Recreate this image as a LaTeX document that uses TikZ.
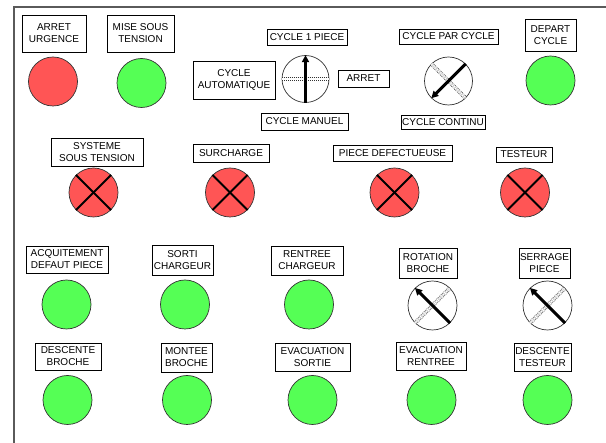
\documentclass[tikz,border=0pt]{standalone}
\usepackage{fontspec}
\setmainfont{Liberation Sans}
\usetikzlibrary{arrows.meta}
\definecolor{lampred}{RGB}{255,85,85}
\definecolor{lampgreen}{RGB}{85,255,85}
\definecolor{framegray}{RGB}{90,90,90}
\begin{document}
\begin{tikzpicture}[x=1pt,y=-1pt,
  lbl/.style={draw=black, line width=0.8pt, fill=white, align=center,
    font=\fontsize{10}{12}\selectfont, inner sep=0pt},
  lamp/.style={circle, draw=black!80, line width=0.7pt, minimum size=49pt, inner sep=0pt},
  redlamp/.style={lamp, fill=lampred},
  greenlamp/.style={lamp, fill=lampgreen},
  selector/.style={circle, draw=black!80, line width=0.7pt, fill=white, minimum size=48pt, inner sep=0pt},
  crossline/.style={line width=2pt, black},
  selarrow/.style={line width=3pt, black, -{Triangle[length=7pt,width=7pt]}},
  seldots/.style={double, double distance=2.6pt, line width=0.5pt, dash pattern=on 1pt off 1pt, black!80}
]
\useasboundingbox (0,0) rectangle (606,443);
\coordinate (fb) at (14,443);
\coordinate (fc) at (14,7);
\coordinate (fr) at (606,7);
\draw[framegray, line width=1.4pt] (fb) -- (fc) -- (fr);

% row 1
\node[lbl, minimum width=64pt, minimum height=37pt] (l1) at (54,33.5) {ARRET\\URGENCE};
\node[lbl, minimum width=67pt, minimum height=37pt] (l2) at (140.5,33.5) {MISE SOUS\\TENSION};
\node[lbl, minimum width=80pt, minimum height=16pt] (l3) at (307,37) {CYCLE 1 PIECE};
\node[lbl, minimum width=82pt, minimum height=38pt] (l4) at (234,80) {CYCLE\\AUTOMATIQUE};
\node[lbl, minimum width=51pt, minimum height=17pt] (l5) at (363.5,78.5) {ARRET};
\node[lbl, minimum width=87pt, minimum height=17pt] (l6) at (304.5,121.5) {CYCLE MANUEL};
\node[lbl, minimum width=99pt, minimum height=15pt] (l7) at (448.5,36.5) {CYCLE PAR CYCLE};
\node[lbl, minimum width=84pt, minimum height=14pt] (l8) at (443,122) {CYCLE CONTINU};
\node[lbl, minimum width=51pt, minimum height=32pt] (l9) at (550.5,35) {DEPART\\CYCLE};

\node[redlamp] (c1) at (53,81.5) {};
\node[greenlamp] (c2) at (141.5,83) {};
\node[selector, minimum size=47pt] (s1) at (305.5,79) {};
\draw[seldots] (s1.180) -- (s1.0);
\draw[selarrow] (s1.-90) -- (s1.90);
\node[selector] (s2) at (448.5,81) {};
\draw[seldots] (s2.135) -- (s2.-45);
\draw[selarrow] (s2.45) -- (s2.225);
\node[greenlamp] (c3) at (550.5,80.5) {};

% row 2
\node[lbl, minimum width=92pt, minimum height=28pt] (l10) at (97,152) {SYSTEME\\SOUS TENSION};
\node[lbl, minimum width=76pt, minimum height=18pt] (l11) at (231,153) {SURCHARGE};
\node[lbl, minimum width=119pt, minimum height=16pt] (l12) at (392.5,153) {PIECE DEFECTUEUSE};
\node[lbl, minimum width=56pt, minimum height=15pt] (l13) at (524,154.5) {TESTEUR};

\foreach \n/\x in {x1/93.5, x2/230, x3/394.5, x4/525}{
  \node[redlamp] (\n) at (\x,192.5) {};
  \draw[crossline] (\n.45) -- (\n.225);
  \draw[crossline] (\n.135) -- (\n.-45);
}

% row 3
\node[lbl, minimum width=82pt, minimum height=27pt] (l14) at (67,259.5) {ACQUITEMENT\\DEFAUT PIECE};
\node[lbl, minimum width=61pt, minimum height=30pt] (l15) at (182.5,260) {SORTI\\CHARGEUR};
\node[lbl, minimum width=72pt, minimum height=29pt] (l16) at (307,260.5) {RENTREE\\CHARGEUR};
\node[lbl, minimum width=58pt, minimum height=30pt] (l17) at (428,263) {ROTATION\\BROCHE};
\node[lbl, minimum width=51pt, minimum height=30pt] (l18) at (544.5,263) {SERRAGE\\PIECE};

\node[greenlamp] (g1) at (66.5,304.5) {};
\node[greenlamp] (g2) at (185,304.5) {};
\node[greenlamp] (g3) at (309,304.5) {};
\node[selector, minimum size=49pt] (s3) at (432.5,305.5) {};
\draw[seldots] (s3.-135) -- (s3.45);
\draw[selarrow] (s3.-45) -- (s3.135);
\node[selector, minimum size=49pt] (s4) at (547.5,305.5) {};
\draw[seldots] (s4.-135) -- (s4.45);
\draw[selarrow] (s4.-45) -- (s4.135);

% row 4
\node[lbl, minimum width=66pt, minimum height=27pt] (l19) at (68,356.5) {DESCENTE\\BROCHE};
\node[lbl, minimum width=51pt, minimum height=29pt] (l20) at (186.5,357.5) {MONTEE\\BROCHE};
\node[lbl, minimum width=75pt, minimum height=28pt] (l21) at (312.5,357) {EVACUATION\\SORTIE};
\node[lbl, minimum width=70pt, minimum height=28pt] (l22) at (431,356) {EVACUATION\\RENTREE};
\node[lbl, minimum width=57pt, minimum height=28pt] (l23) at (542.5,357) {DESCENTE\\TESTEUR};

\node[greenlamp] (g4) at (67.5,400) {};
\node[greenlamp] (g5) at (187,400) {};
\node[greenlamp] (g6) at (312.5,400) {};
\node[greenlamp] (g7) at (431.5,400) {};
\node[greenlamp] (g8) at (547.5,400) {};
\end{tikzpicture}
\end{document}
